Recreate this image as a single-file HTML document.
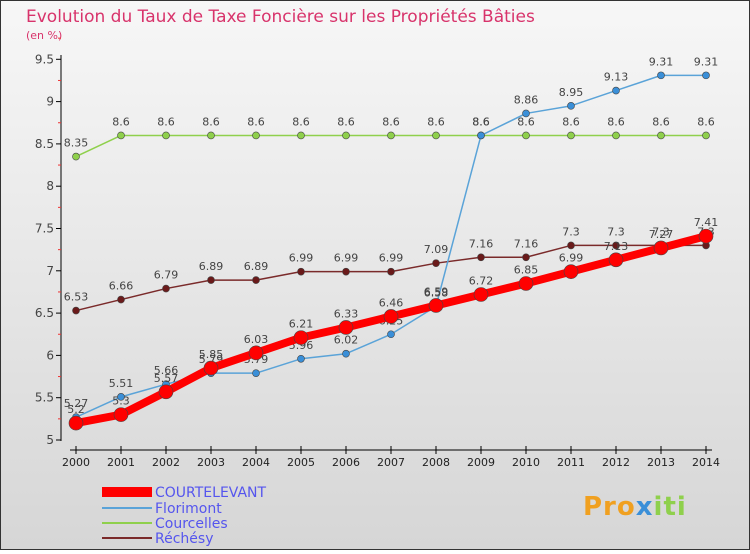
<!DOCTYPE html>
<html><head><meta charset="utf-8"><style>
body{margin:0;width:750px;height:550px;overflow:hidden;font-family:"DejaVu Sans","Liberation Sans",sans-serif}
</style></head><body>
<svg width="750" height="550" xmlns="http://www.w3.org/2000/svg" id="svg">
<defs><linearGradient id="bg" x1="0" y1="0" x2="0" y2="1"><stop offset="0" stop-color="#f7f7f7"/><stop offset="1" stop-color="#d6d6d6"/></linearGradient></defs>
<rect x="0.5" y="0.5" width="749" height="549" fill="url(#bg)" stroke="#333"/>
<text x="26" y="22" font-size="17" fill="#d8336b">Evolution du Taux de Taxe Foncière sur les Propriétés Bâties</text>
<text x="26" y="39" font-size="11" fill="#d8336b">(en %)</text>
<g id="axes"></g><g id="series"></g>
<g font-size="14">
<rect x="102" y="487" width="50" height="10" fill="#f00"/>
<text x="155" y="497" fill="#5555ee">COURTELEVANT</text>
<line x1="102" y1="508" x2="152" y2="508" stroke="#5aa3d8" stroke-width="2"/>
<text x="155" y="513" fill="#5555ee">Florimont</text>
<line x1="102" y1="523" x2="152" y2="523" stroke="#8fd04c" stroke-width="2"/>
<text x="155" y="528" fill="#5555ee">Courcelles</text>
<line x1="102" y1="538" x2="152" y2="538" stroke="#7a2a2a" stroke-width="2"/>
<text x="155" y="543" fill="#5555ee">Réchésy</text>
</g>
<text x="583" y="515" font-size="26" font-weight="bold" fill="#f0a020" letter-spacing="1">Pro<tspan fill="#3a8fd8">x</tspan><tspan fill="#8fd04c">iti</tspan></text>
</svg>
<script>
const years=[2000,2001,2002,2003,2004,2005,2006,2007,2008,2009,2010,2011,2012,2013,2014];
const courtelevant=[5.2,5.3,5.57,5.85,6.03,6.21,6.33,6.46,6.59,6.72,6.85,6.99,7.13,7.27,7.41];
const florimont=[5.27,5.51,5.66,5.79,5.79,5.96,6.02,6.25,6.58,8.6,8.86,8.95,9.13,9.31,9.31];
const courcelles=[8.35,8.6,8.6,8.6,8.6,8.6,8.6,8.6,8.6,8.6,8.6,8.6,8.6,8.6,8.6];
const rechesy=[6.53,6.66,6.79,6.89,6.89,6.99,6.99,6.99,7.09,7.16,7.16,7.3,7.3,7.3,7.3];
const yTicks=[5,5.5,6,6.5,7,7.5,8,8.5,9,9.5];
const NS="http://www.w3.org/2000/svg";
const X=i=>76+i*45, Y=v=>440-(v-5)*84.6;
function mk(t,a,p){const e=document.createElementNS(NS,t);for(const k in a)e.setAttribute(k,a[k]);p.appendChild(e);return e;}
const ax=document.getElementById('axes'), se=document.getElementById('series');
let l=mk('line',{x1:61,y1:55,x2:61,y2:441,stroke:'#000'},ax);


yTicks.forEach(v=>{
  let t=mk('line',{x1:56,y1:Y(v),x2:61,y2:Y(v),stroke:'#000'},ax);
  
  
  let m=mk('line',{x1:58,y1:Y(v+0.25),x2:61,y2:Y(v+0.25),stroke:'#e33'},ax);
  
  
  let tx=mk('text',{x:54,y:Y(v)+4,'text-anchor':'end','font-size':12,fill:'#444'},ax);tx.textContent=v;
  
  
});
l=mk('line',{x1:70,y1:450,x2:712,y2:450,stroke:'#000'},ax);


years.forEach((y,i)=>{
  let t=mk('line',{x1:X(i),y1:446,x2:X(i),y2:454,stroke:'#000'},ax);
  
  
  let tx=mk('text',{x:X(i),y:466,'text-anchor':'middle','font-size':11,fill:'#222'},ax);tx.textContent=y;
  
  
});
function series(name,data,color,w,r,dot){
  const g=mk('g',{},se);
  
  
  const p=mk('polyline',{points:data.map((v,i)=>X(i)+','+Y(v)).join(' '),fill:'none',stroke:color,'stroke-width':w,'stroke-linejoin':'round'},g);
  
  
  data.forEach((v,i)=>{
    const c=mk('circle',{cx:X(i),cy:Y(v),r:r,fill:dot,stroke:'#444','stroke-width':0.6},g);
    
    
    const t=mk('text',{x:X(i),y:Y(v)-10,'text-anchor':'middle','font-size':11,fill:'#444'},g);t.textContent=v;
    
    
  });
}
series('courcelles',courcelles,'#8fd04c',1.5,3.5,'#8fd04c');
series('rechesy',rechesy,'#7a2a2a',1.5,3.5,'#6a1a1a');
series('florimont',florimont,'#5aa3d8',1.5,3.5,'#3a8fd8');
series('courtelevant',courtelevant,'#f00',8,7,'#f00');
</script>
</body></html>
